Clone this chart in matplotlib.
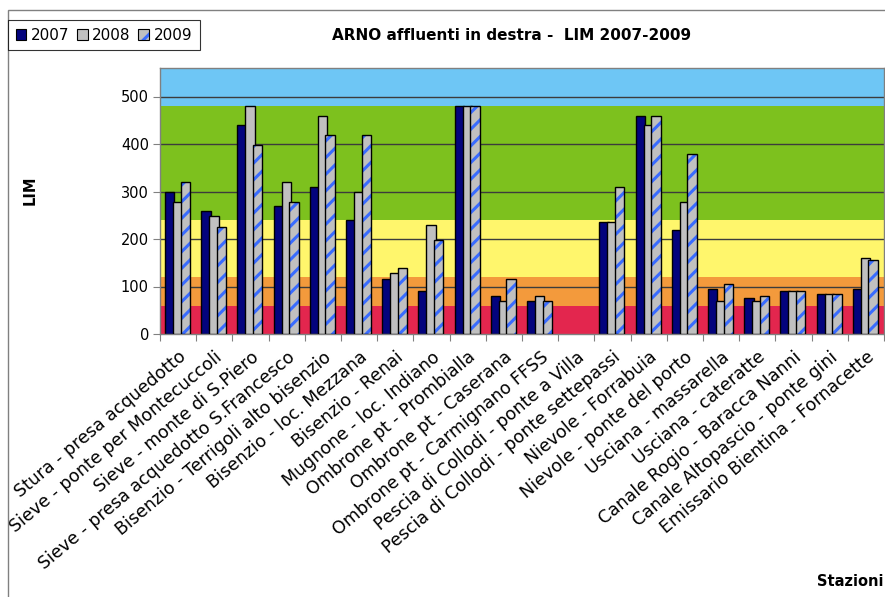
import numpy as np
import matplotlib
matplotlib.use("Agg")
import matplotlib.pyplot as plt
from matplotlib.patches import Patch, Rectangle

stazioni = [
    "Stura - presa acquedotto",
    "Sieve - ponte per Montecuccoli",
    "Sieve - monte di S.Piero",
    "Sieve - presa acquedotto S.Francesco",
    "Bisenzio - Terrigoli alto bisenzio",
    "Bisenzio - loc. Mezzana",
    "Bisenzio - Renai",
    "Mugnone - loc. Indiano",
    "Ombrone pt - Prombialla",
    "Ombrone pt - Caserana",
    "Ombrone pt - Carmignano FFSS",
    "Pescia di Collodi - ponte a Villa",
    "Pescia di Collodi - ponte settepassi",
    "Nievole - Forrabuia",
    "Nievole - ponte del porto",
    "Usciana - massarella",
    "Usciana - cateratte",
    "Canale Rogio - Baracca Nanni",
    "Canale Altopascio - ponte gini",
    "Emissario Bientina - Fornacette",
]

lim_2007 = [300, 260, 440, 270, 310, 240, 115, 90, 480, 80, 70, np.nan,
            235, 460, 220, 95, 75, 90, 85, 95]
lim_2008 = [278, 248, 480, 320, 460, 300, 128, 230, 480, 70, 80, np.nan,
            235, 440, 278, 70, 70, 90, 85, 160]
lim_2009 = [320, 225, 398, 278, 418, 418, 140, 198, 480, 115, 70, np.nan,
            310, 460, 380, 105, 80, 90, 85, 155]

# classi LIM: limiti inferiori/superiori e colori
classi_lim = [0, 60, 120, 240, 480, 560]
colori_classi = ["#e3264e", "#f39a3c", "#fff66c", "#7dc11e", "#6ec6f5"]

navy = "#03037d"
grigio = "#c0c0c0"
blu_righe = "#3a6cff"

plt.rcParams["hatch.linewidth"] = 2.2

fig = plt.figure(figsize=(8.85, 5.97), dpi=100)
ax = fig.add_axes([160 / 885, 1 - 334 / 597, 724 / 885, 266 / 597])

n = len(stazioni)
x = np.arange(n)

# fasce colorate delle classi
for lo, hi, c in zip(classi_lim[:-1], classi_lim[1:], colori_classi):
    ax.axhspan(lo, hi, color=c, lw=0, zorder=0)
for y in range(100, 501, 100):
    ax.axhline(y, color="#3c3c3c", lw=1.0, zorder=1)

w = 0.26
ax.bar(x - 0.23, lim_2007, w, color=navy, edgecolor="black", lw=1.0, zorder=2)
ax.bar(x - 0.01, lim_2008, w, color=grigio, edgecolor="black", lw=1.0, zorder=3)
ax.bar(x + 0.20, lim_2009, w, color=grigio, edgecolor=blu_righe, lw=0,
       hatch="//", zorder=4)
ax.bar(x + 0.20, lim_2009, w, fill=False, edgecolor="black", lw=1.0, zorder=5)

ax.set_xlim(-0.5, n - 0.5)
ax.set_ylim(0, 560)
ax.set_yticks(range(0, 501, 100))
ax.tick_params(axis="y", labelsize=10.5, length=5, color="#808080", pad=3)

ax.set_xticks(np.arange(n + 1) - 0.5, minor=False)
ax.set_xticklabels([])
ax.set_xticks(x, minor=True)
ax.set_xticklabels(stazioni, minor=True, rotation=40, ha="right",
                   va="top", rotation_mode="anchor", fontsize=12.5)
ax.tick_params(axis="x", which="major", length=5, color="#808080")
ax.tick_params(axis="x", which="minor", length=0, pad=10)

for s in ax.spines.values():
    s.set_color("#808080")
    s.set_linewidth(1.0)

fig.text(30 / 885, 1 - 190 / 597, "LIM", rotation=90, ha="center",
         va="center", fontsize=10.5, fontweight="bold")
fig.text(883 / 885, 1 - 582 / 597, "Stazioni", ha="right", va="center",
         fontsize=10.5, fontweight="bold")
fig.text(512 / 885, 1 - 35 / 597, "ARNO affluenti in destra -  LIM 2007-2009",
         ha="center", va="center", fontsize=11, fontweight="bold")

handles = [
    Patch(facecolor=navy, edgecolor="black", lw=0.8),
    Patch(facecolor=grigio, edgecolor="black", lw=0.8),
    (Patch(facecolor=grigio, edgecolor=blu_righe, lw=0, hatch="//"),
     Patch(fill=False, edgecolor="black", lw=0.8)),
]
leg = fig.legend(handles, ["2007", "2008", "2009"], loc="upper left",
                 bbox_to_anchor=(8 / 885, 1 - 20 / 597), ncol=3,
                 fontsize=11, frameon=True, fancybox=False,
                 handlelength=0.7, handleheight=0.7, handletextpad=0.3,
                 columnspacing=0.5, borderaxespad=0, borderpad=0.5)
leg.get_frame().set_edgecolor("black")
leg.get_frame().set_linewidth(0.8)

# cornice esterna del grafico
fig.patches.append(Rectangle((8 / 885, -0.1), 1.2, 1 - 10 / 597 + 0.1,
                             transform=fig.transFigure, fill=False,
                             edgecolor="#808080", lw=1.0))

fig.savefig("out.png", dpi=100)
